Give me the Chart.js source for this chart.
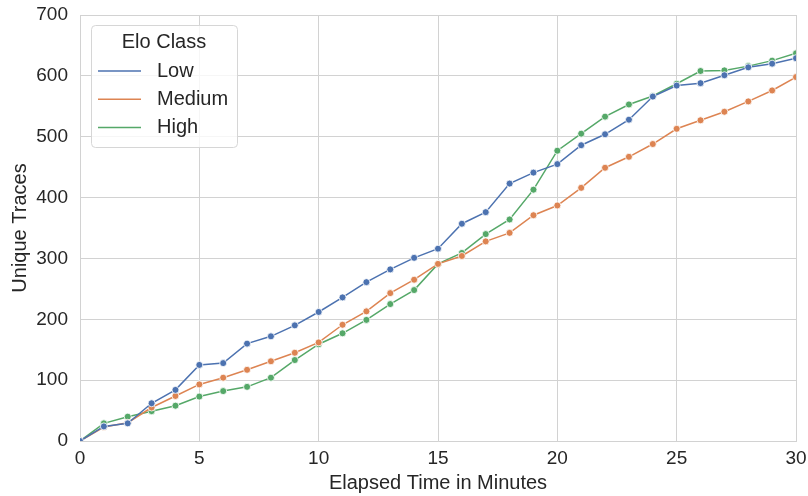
<html><head><title>Unique Traces by Elo Class</title>
<script src="https://cdn.jsdelivr.net/npm/chart.js"></script>
<style>
    body {
        margin: 0;
        background: #fff;
    }
</style>
</head>
<body>
    <canvas id="tracesChart" width="808" height="496"></canvas>

    <script>
    const minutes = [0, 1, 2, 3, 4, 5, 6, 7, 8, 9, 10, 11, 12, 13, 14, 15, 16, 17, 18, 19, 20, 21, 22, 23, 24, 25, 26, 27, 28, 29, 30];
    const lowTraces = [0, 24, 29, 62, 84, 125, 128, 160, 172, 190, 212, 236, 261, 282, 301, 316, 357, 376, 423, 441, 455, 486, 504, 528, 566, 584, 588, 601, 614, 620, 629];
    const mediumTraces = [0, 23, 30, 55, 74, 93, 104, 117, 131, 145, 162, 191, 213, 243, 265, 291, 304, 328, 342, 371, 387, 416, 449, 467, 488, 513, 527, 541, 558, 576, 598];
    const highTraces = [0, 29, 40, 49, 58, 73, 82, 89, 104, 133, 159, 177, 199, 225, 248, 291, 309, 340, 364, 413, 477, 505, 533, 553, 567, 587, 608, 609, 616, 625, 637];
    const seriesNames = ['Low', 'Medium', 'High'];
    const seriesColors = ['#4c72b0', '#dd8452', '#55a868'];
    const xTicks = [0, 5, 10, 15, 20, 25, 30];
    const yTicks = [0, 100, 200, 300, 400, 500, 600, 700];

    const textColor = '#262626';
    const gridColor = '#d2d2d2';
    const fontFamily = '"Liberation Sans", Arial, sans-serif';

    function makeDataset(name, values, color) {
        return {
            label: name,
            data: minutes.map((m, i) => ({ x: m, y: values[i] })),
            borderColor: color,
            backgroundColor: color,
            borderWidth: 1.5,
            pointRadius: 3.5,
            pointBorderColor: '#ffffff',
            pointBorderWidth: 0.8,
            pointBackgroundColor: color,
            tension: 0,
            fill: false
        };
    }

    // seaborn-like boxed legend in the upper left of the plot
    const boxLegend = {
        id: 'boxLegend',
        afterDatasetsDraw(chart) {
            const ctx = chart.ctx;
            const area = chart.chartArea;
            const x0 = area.left + 11, y0 = area.top + 10;
            const w = 146, h = 122;
            ctx.save();
            ctx.beginPath();
            ctx.roundRect(x0 + 0.5, y0 + 0.5, w, h, 4);
            ctx.fillStyle = 'rgba(255,255,255,0.8)';
            ctx.fill();
            ctx.strokeStyle = '#d6d6d6';
            ctx.lineWidth = 1;
            ctx.stroke();

            ctx.font = '20px ' + fontFamily;
            ctx.fillStyle = textColor;
            ctx.textBaseline = 'middle';
            ctx.textAlign = 'center';
            ctx.fillText('Elo Class', x0 + w / 2, y0 + 17);

            ctx.textAlign = 'left';
            chart.data.datasets.forEach((ds, i) => {
                const cy = y0 + 46 + i * 28.3;
                ctx.beginPath();
                ctx.moveTo(x0 + 7, cy);
                ctx.lineTo(x0 + 50, cy);
                ctx.strokeStyle = ds.borderColor;
                ctx.lineWidth = 1.5;
                ctx.stroke();
                ctx.fillStyle = textColor;
                ctx.fillText(ds.label, x0 + 66, cy);
            });
            ctx.restore();
        }
    };

    const ctx = document.getElementById('tracesChart').getContext('2d');
    const chart = new Chart(ctx, {
        type: 'line',
        data: {
            datasets: [
                makeDataset(seriesNames[0], lowTraces, seriesColors[0]),
                makeDataset(seriesNames[1], mediumTraces, seriesColors[1]),
                makeDataset(seriesNames[2], highTraces, seriesColors[2])
            ]
        },
        plugins: [boxLegend],
        options: {
            responsive: false,
            animation: false,
            maintainAspectRatio: false,
            layout: {
                padding: { top: 15, right: 12, left: 0, bottom: 0 }
            },
            plugins: {
                legend: { display: false },
                tooltip: { enabled: false }
            },
            scales: {
                x: {
                    type: 'linear',
                    min: 0,
                    max: 30,
                    afterBuildTicks: (scale) => { scale.ticks = xTicks.map(v => ({ value: v })); },
                    afterFit: (scale) => {
                        scale.height = 55;
                        scale.paddingLeft = 0;
                        scale.paddingRight = 0;
                    },
                    grid: { color: gridColor, lineWidth: 1, drawTicks: false },
                    border: { display: true, color: gridColor },
                    ticks: {
                        color: textColor,
                        font: { family: fontFamily, size: 19 },
                        padding: 6,
                        maxRotation: 0,
                        autoSkip: false
                    },
                    title: {
                        display: true,
                        text: 'Elapsed Time in Minutes',
                        color: textColor,
                        font: { family: fontFamily, size: 20 },
                        padding: { top: 0, bottom: 1 }
                    }
                },
                y: {
                    min: 0,
                    max: 700,
                    afterBuildTicks: (scale) => { scale.ticks = yTicks.map(v => ({ value: v })); },
                    afterFit: (scale) => {
                        scale.width = 80;
                        scale.paddingTop = 0;
                        scale.paddingBottom = 0;
                    },
                    grid: { color: gridColor, lineWidth: 1, drawTicks: false },
                    border: { display: true, color: gridColor },
                    ticks: {
                        color: textColor,
                        font: { family: fontFamily, size: 19 },
                        padding: 12,
                        autoSkip: false
                    },
                    title: {
                        display: true,
                        text: 'Unique Traces',
                        color: textColor,
                        font: { family: fontFamily, size: 20 },
                        padding: { top: 8, bottom: 0 }
                    }
                }
            }
        }
    });
    </script>
</body>
</html>
